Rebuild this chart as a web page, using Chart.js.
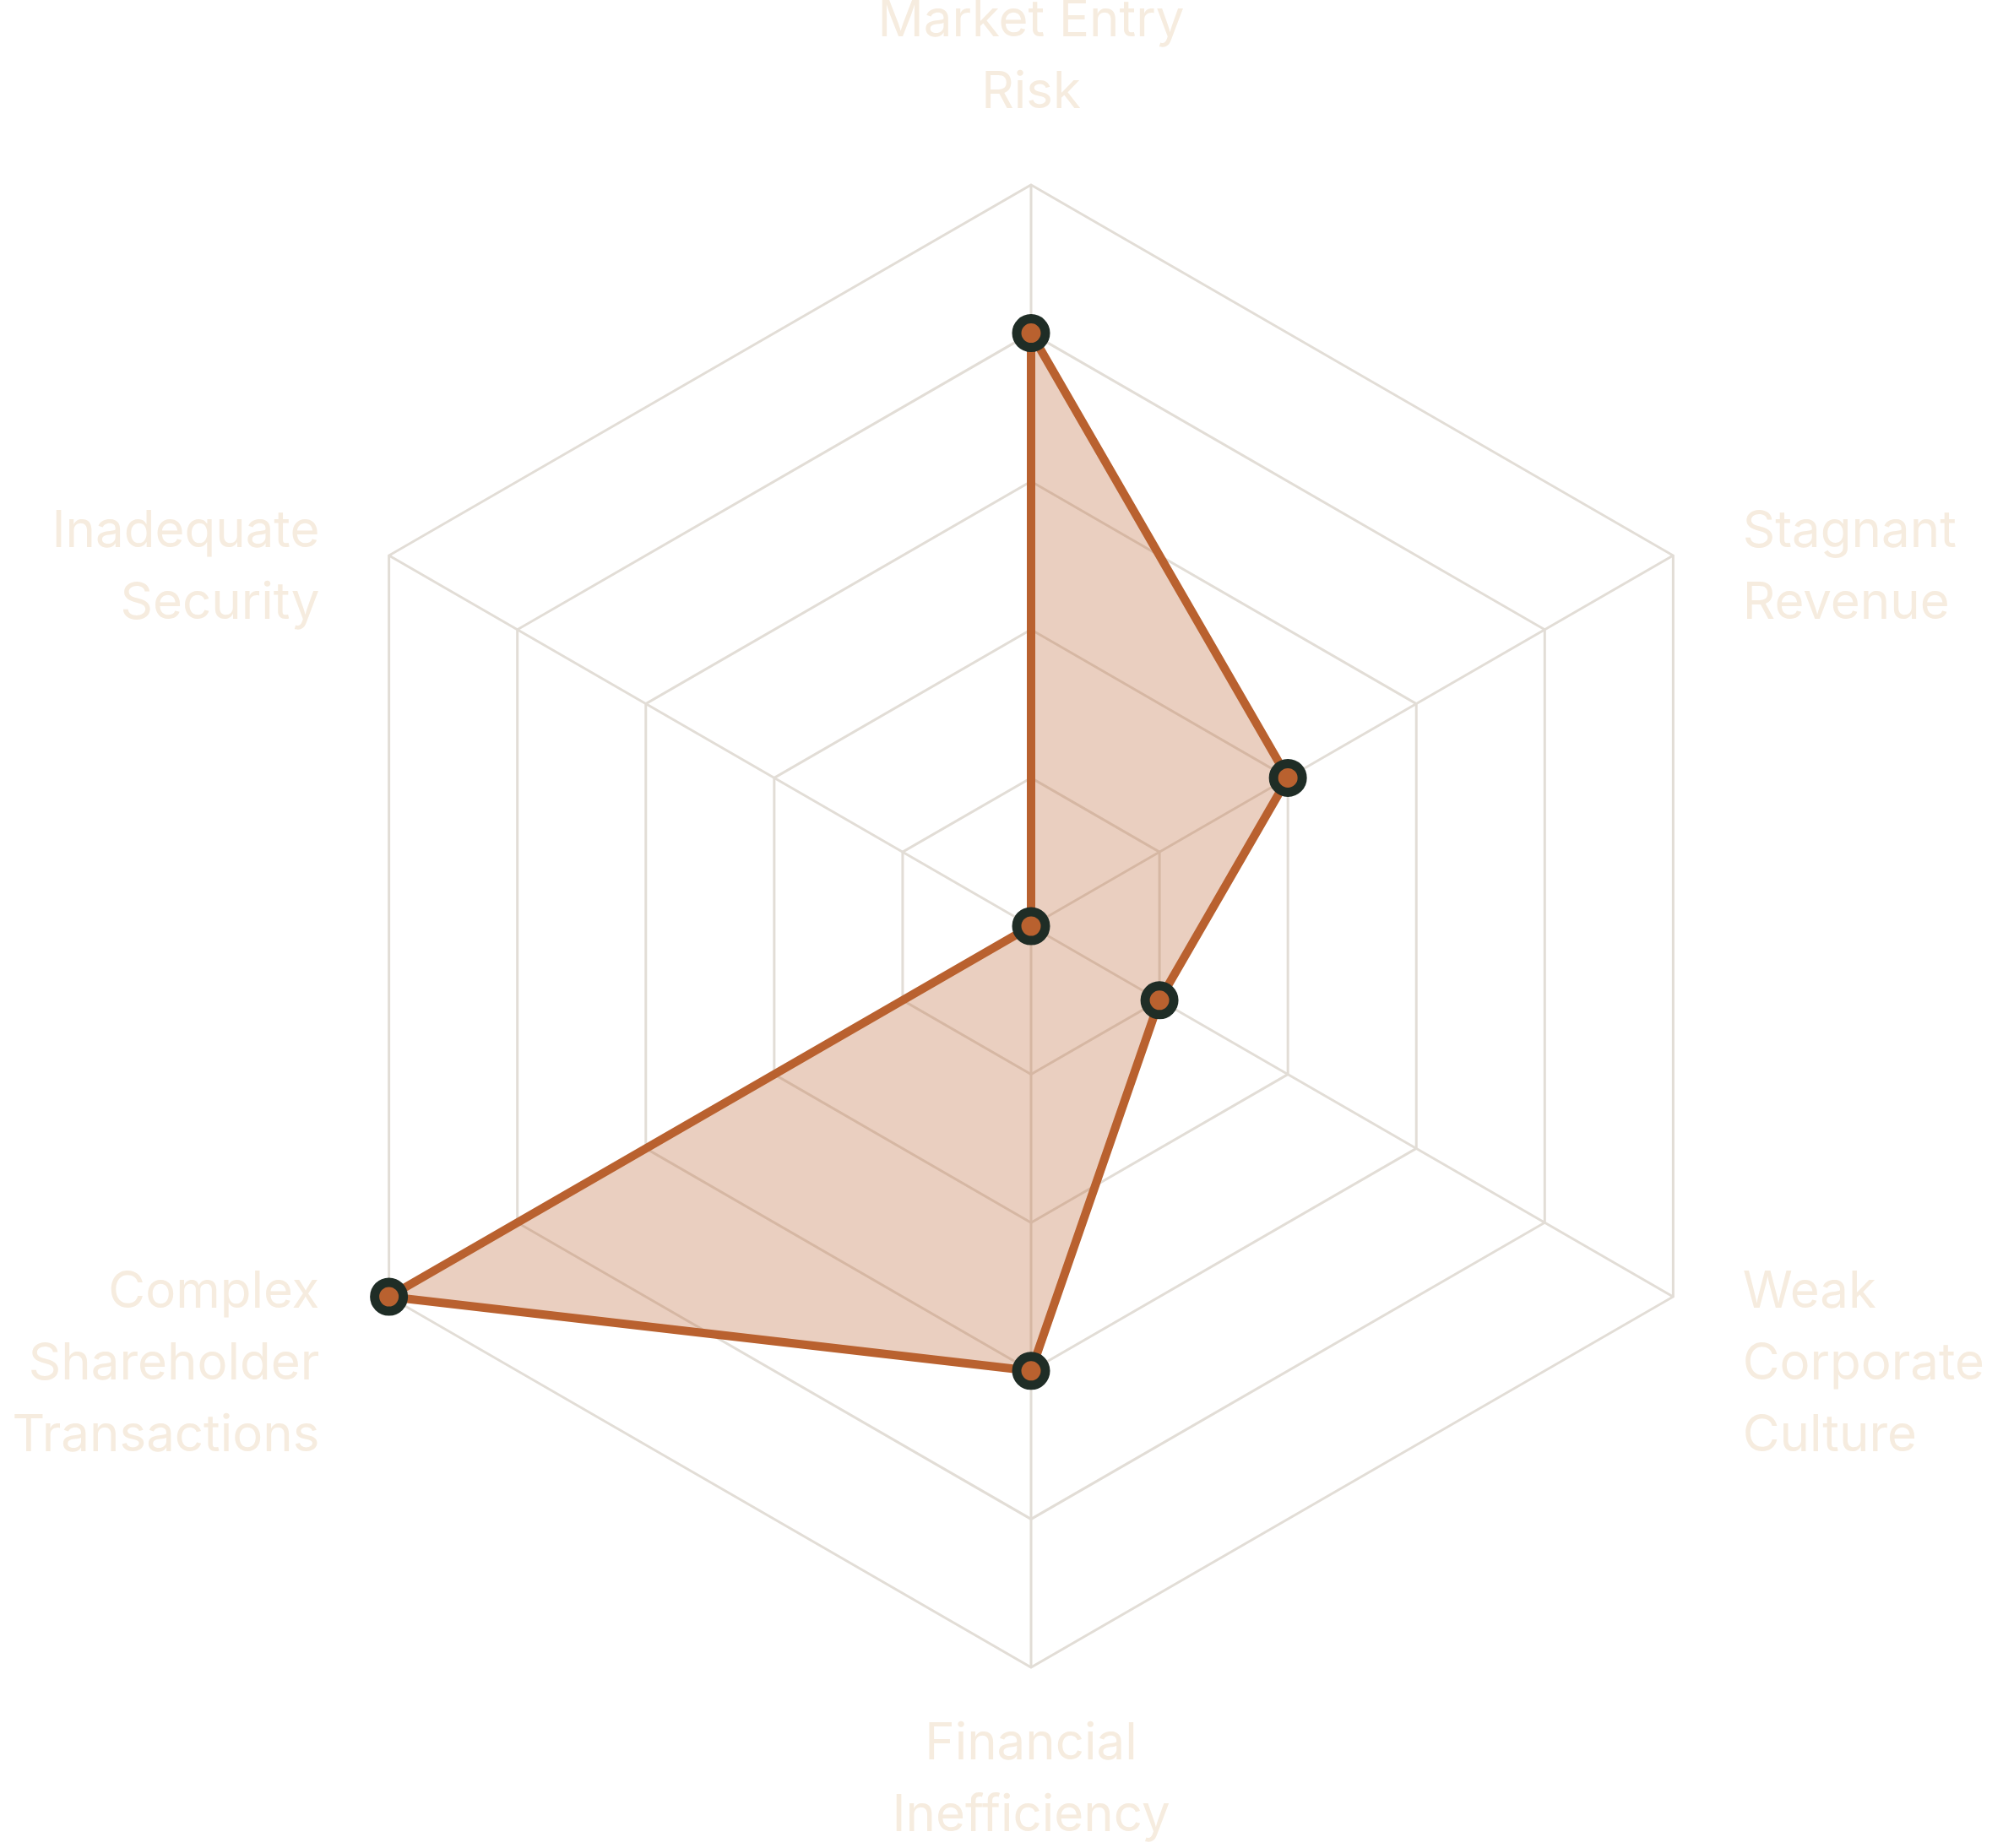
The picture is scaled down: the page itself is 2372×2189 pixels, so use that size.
<!DOCTYPE html>
<html>
<head>
<meta charset="utf-8">
<script src="https://cdn.jsdelivr.net/npm/chart.js@4.4.1/dist/chart.umd.min.js"></script>
<style>
  html, body { margin: 0; padding: 0; background: #ffffff; }
  #wrap { width: 2372px; height: 2189px; }
</style>
</head>
<body>
<div id="wrap"><canvas id="riskchart"></canvas></div>
<script>
// data
const axisLabels = [
    ['Market Entry', 'Risk'],
    ['Stagnant', 'Revenue'],
    ['Weak', 'Corporate', 'Culture'],
    ['Financial', 'Inefficiency'],
    ['Complex', 'Shareholder', 'Transactions'],
    ['Inadequate', 'Security']
];
const riskScores = [4, 2, 1, 3, 5, 0];
const scaleMin = 0;
const scaleMax = 5;

// label placement (vertical nudge for each label block)
const labelGap = 95;
const labelShift = [-57, 62, 32, 38, 32, 62];
const labelLine = 85;

const axisLabelPlugin = {
    id: 'axisLabelPlugin',
    afterDraw(chart) {
        const scale = chart.scales.r;
        const ctx = chart.ctx;
        ctx.save();
        ctx.font = '60px Inter';
        ctx.fillStyle = '#f6ecdf';
        ctx.textBaseline = 'middle';
        axisLabels.forEach((lines, i) => {
            const p = scale.getPointPosition(i, scale.drawingArea + labelGap);
            let align = 'center';
            if (p.x > scale.xCenter + 1) align = 'left';
            if (p.x < scale.xCenter - 1) align = 'right';
            ctx.textAlign = align;
            const mid = p.y + labelShift[i];
            const first = mid - (lines.length - 1) * labelLine / 2;
            lines.forEach((txt, k) => {
                ctx.fillText(txt, p.x, first + k * labelLine);
            });
        });
        ctx.restore();
    }
};

var ctx1 = document.getElementById('riskchart');
var riskchart = new Chart(ctx1, {
    type: 'radar',
    data: {
        labels: axisLabels,
        datasets: [{
            data: riskScores,
            fill: true,
            backgroundColor: 'rgba(185, 97, 47, 0.3)',
            borderColor: '#b9612f',
            borderWidth: 10,
            pointRadius: 17,
            pointBorderWidth: 11,
            pointBackgroundColor: '#b9612f',
            pointBorderColor: '#1f2d26',
            pointHoverRadius: 17
        }]
    },
    options: {
        responsive: true,
        maintainAspectRatio: false,
        animation: false,
        layout: {
            padding: { top: 219, bottom: 214, left: 70, right: 0 }
        },
        plugins: {
            legend: { display: false },
            tooltip: { enabled: false }
        },
        scales: {
            r: {
                min: scaleMin,
                max: scaleMax,
                ticks: {
                    display: false,
                    stepSize: 1
                },
                grid: {
                    color: '#e2ddd6',
                    lineWidth: 3
                },
                angleLines: {
                    color: '#e2ddd6',
                    lineWidth: 3
                },
                pointLabels: {
                    display: false
                }
            }
        }
    },
    plugins: [axisLabelPlugin]
});
</script>
</body>
</html>
